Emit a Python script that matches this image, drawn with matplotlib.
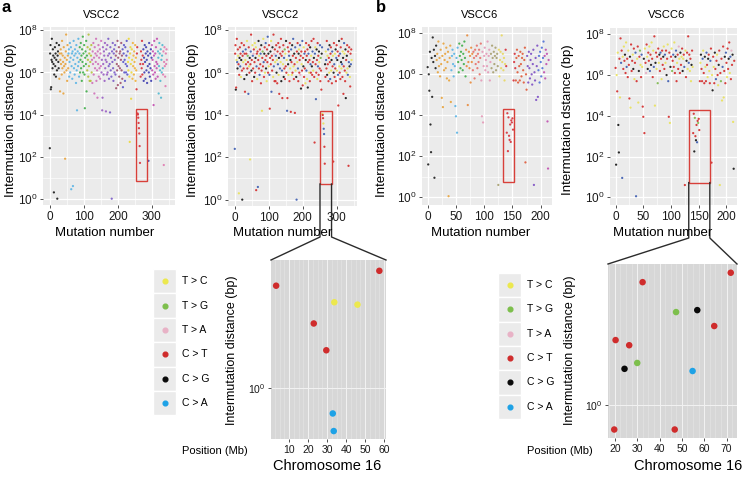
import numpy as np
import matplotlib.pyplot as plt
from matplotlib.patches import Rectangle
from matplotlib.lines import Line2D
from matplotlib.ticker import NullFormatter, NullLocator, MultipleLocator

plt.rcParams['font.family'] = ['Liberation Sans', 'DejaVu Sans']
plt.rcParams['mathtext.fontset'] = 'custom'
plt.rcParams['mathtext.rm'] = 'Liberation Sans'
plt.rcParams['mathtext.it'] = 'Liberation Sans:italic'

# ---------------- data ----------------
# log10 intermutation distance (bp) for each mutation, in genome order
vscc2_log_dist = [
    2.4, 6.9, 7.3, 5.2, 5.3, 6.6, 7.6, 6.5, 6.2, 7.1, 6.8, 6.4, 0.3, 5.9, 6.7,
    7.2, 6.3, 6.9, 5.8, 6.6, 7.4, 6.1, 0.0, 6.8, 7.0, 6.5, 6.2, 7.3, 5.7, 6.9,
    5.1, 6.6, 7.1, 6.4, 6.9, 5.9, 7.5, 6.2, 6.8, 6.5, 5.0, 7.2, 6.3, 6.0, 6.7,
    1.9, 6.4, 7.0, 7.8, 6.1, 6.6, 5.6, 7.3, 6.8, 6.2, 6.9, 7.1, 5.8, 6.5, 7.4,
    6.0, 6.7, 7.2, 0.45, 6.3, 6.9, 5.7, 7.0, 0.6, 6.6, 7.5, 6.2, 6.8, 5.9, 7.1,
    6.4, 6.9, 5.5, 7.3, 6.1, 4.2, 6.7, 7.0, 6.3, 7.6, 6.5, 5.8, 6.9, 7.2, 6.0,
    6.6, 7.4, 6.2, 6.8, 5.6, 7.1, 6.5, 7.7, 6.0, 6.9, 6.3, 7.3, 5.9, 4.3, 6.7,
    7.0, 6.4, 7.5, 5.1, 6.8, 6.1, 7.2, 6.6, 5.8, 7.8, 6.3, 6.9, 5.6, 7.1, 6.5,
    5.6, 6.8, 7.3, 6.0, 6.6, 5.5, 7.0, 6.4, 7.4, 5.9, 6.7, 5.0, 7.2, 6.2, 6.9,
    6.5, 7.6, 5.6, 6.8, 6.1, 4.8, 7.0, 6.4, 7.3, 5.8, 6.7, 6.2, 7.1, 5.7, 6.9,
    6.3, 7.5, 6.0, 6.6, 4.2, 4.8, 7.2, 6.4, 5.9, 7.0, 6.8, 5.6, 7.4, 6.2, 6.6,
    4.15, 7.1, 6.5, 5.9, 7.3, 6.0, 6.8, 7.6, 6.3, 5.7, 6.9, 6.4, 4.1, 7.2, 6.1,
    6.7, 5.8, 0.0, 7.0, 6.5, 7.4, 6.2, 5.6, 6.9, 7.1, 6.0, 6.6, 7.3, 5.9, 6.8,
    5.25, 7.0, 6.4, 6.1, 7.5, 5.4, 6.7, 6.3, 7.2, 5.8, 6.9, 6.2, 7.0, 5.5, 6.6,
    7.4, 6.1, 6.8, 5.7, 7.1, 5.3, 6.5, 6.9, 7.3, 6.0, 6.6, 5.6, 7.2, 6.4, 6.0,
    6.8, 7.5, 6.3, 5.9, 7.0, 6.5, 6.1, 7.6, 6.7, 5.8, 2.7, 6.9, 7.2, 6.4, 4.75,
    6.0, 7.1, 6.6, 5.7, 7.4, 6.3, 6.8, 5.9, 7.0, 6.5, 6.2, 7.3, 5.6, 6.7, 6.1,
    5.2, 6.9, 7.2, 4.05, 4.0, 3.85, 3.6, 3.35, 3.1, 2.5, 1.7, 6.4, 5.8, 7.0, 6.6,
    6.2, 7.5, 5.9, 6.8, 6.4, 7.1, 5.6, 6.7, 6.0, 7.3, 6.5, 5.7, 6.9, 7.2, 6.1,
    6.6, 5.5, 7.0, 6.3, 6.8, 1.8, 6.0, 7.4, 6.4, 5.8, 6.9, 6.2, 7.1, 5.6, 6.7,
    7.3, 6.1, 6.6, 7.0, 5.9, 4.45, 6.8, 7.5, 6.3, 6.0, 6.9, 5.7, 7.2, 6.5, 6.2,
    7.6, 6.4, 5.8, 7.0, 6.7, 5.0, 6.3, 7.4, 6.9, 6.1, 5.6, 7.1, 4.8, 6.6, 6.0,
    6.8, 7.3, 6.2, 5.9, 7.0, 1.6, 6.5, 7.2, 6.3, 5.8, 5.35, 6.9, 6.4, 7.1, 6.6,
]
# mutation type per mutation: Y T>C, G T>G, P T>A, R C>T, K C>G, B C>A
vscc2_types = ''.join([
    'BRRKRYRBKRYRYRK', 'RBRYKRRKRBYRRKR', 'RYBRRKYRGRBRYRK', 'YRBRKRRYBRPRKRY',
    'RKYRBRYRBRKRYBR', 'RBRKRYRGRYBRKRY', 'RBKRYRRBRKYRBRR', 'KRYBRRKRYRBPRRY',
    'RBRKYRRBRYKRRBR', 'YRKRBRRYRKBRGRY', 'RKRYBRRKYRBRRYK', 'RBRYKRRBYRKRRBY',
    'RKBRYRBRKYRRBPR', 'KRYRBRRKYRBRRYK', 'RBRYRKRBRYRRKBR', 'YRKRBRYRKRRBYRB',
    'RKRYRBRRKYRBRGR', 'RKBYRRYBBRRKRYB', 'RRKYRBRRYKRBRRY', 'KRBRYRKRBRYRKRB',
    'RYKRBRRKYRBRRKY', 'RBRYKRRBYRRKKRY', 'KRYBRRBRKYRRBRY',
])
# mutations per chromosome block (genome order) and block colours
vscc2_chrom_counts = [28, 27, 33, 22, 14, 28, 20, 22, 20, 16, 13, 12, 20, 25, 18, 15, 12]
vscc2_chrom_colors = ['#1a1a1a', '#e8a33c', '#5ab4e5', '#3fae49', '#b5c23a', '#d070b8',
                      '#9a5ec4', '#7a5cc8', '#a0526e', '#5b55c9', '#ecd839', '#f1b23a',
                      '#d7303a', '#3d3db0', '#c44fb0', '#4fb8d0', '#e07ab0']

vscc6_log_dist = [
    6.35, 1.6, 6.0, 5.2, 7.1, 3.55, 2.2, 6.8, 4.9, 7.8, 6.6, 7.2, 0.95, 6.9, 6.3,
    7.4, 6.7, 7.0, 6.1, 7.6, 6.4, 6.8, 5.9, 7.2, 6.5, 4.85, 6.9, 4.4, 7.5, 6.2,
    6.7, 7.0, 6.3, 7.3, 5.8, 6.6, 7.1, 0.05, 5.7, 6.8, 7.4, 4.65, 6.2, 6.9, 7.2,
    6.5, 5.9, 7.0, 6.4, 4.45, 3.95, 6.8, 3.15, 7.3, 6.6, 6.1, 7.5, 6.9, 6.3, 7.1,
    6.7, 7.4, 6.2, 7.0, 6.5, 7.6, 6.8, 5.9, 7.2, 6.4, 7.9, 4.5, 6.6, 7.1, 6.3,
    6.9, 5.6, 7.3, 6.6, 7.0, 6.2, 7.1, 6.8, 5.8, 7.2, 6.5, 6.9, 7.4, 6.3, 7.0,
    6.6, 7.2, 6.0, 6.8, 7.5, 5.7, 3.95, 7.1, 3.65, 6.4, 6.9, 7.3, 6.2, 6.7, 7.0,
    6.4, 7.6, 6.1, 6.9, 7.2, 5.7, 6.6, 7.0, 6.3, 7.4, 6.8, 6.1, 7.1, 6.5, 6.9,
    7.3, 6.2, 6.8, 7.0, 6.4, 0.6, 7.2, 5.9, 6.7, 7.1, 6.3, 7.9, 6.6, 7.0, 6.2,
    6.8, 5.7, 6.5, 7.2, 6.4, 3.15, 4.1, 2.25, 3.9, 3.0, 2.8, 3.55, 2.7, 3.75, 3.65,
    3.85, 3.3, 5.7, 6.6, 7.0, 6.3, 5.7, 6.8, 7.2, 6.1, 5.6, 6.9, 6.4, 5.7, 7.1,
    6.5, 5.9, 6.8, 7.0, 6.2, 5.6, 6.7, 7.3, 1.7, 6.0, 5.25, 6.9, 6.4, 5.6, 7.1,
    6.3, 5.8, 6.7, 7.0, 6.0, 5.5, 6.5, 7.2, 0.6, 6.1, 5.7, 6.8, 4.75, 6.4, 7.4,
    4.9, 6.2, 6.9, 5.6, 7.1, 6.6, 5.9, 7.3, 6.3, 6.8, 7.6, 6.1, 6.9, 5.8, 7.2,
    6.5, 7.0, 3.7, 1.4, 6.7,
]
vscc6_types = ''.join([
    'RKYRYKKRYRBRBYR', 'YRKRYBRRYRRKYRR', 'RYKRYRBBRYRYKRG', 'YRBYRRKRYRPRYKR',
    'RYBRKYRRYBRYKRY', 'RGRYKRBRYRRKYRB', 'YRKRYBRRYKRYGRB', 'RYRKBRYRRPYRKRY',
    'RKYRBRYRKRYRBRY', 'RYKRYRRKGRKRBRG', 'RRRYKRRBYRRKYRB', 'RYKRYRBRRYKRYRK',
    'RBRYRYKRYRGRYBR', 'YRKRBRYRRKRYBRP', 'RKYKR',
])
vscc6_chrom_counts = [16, 26, 12, 14, 12, 15, 17, 14, 12, 18, 20, 20, 10, 9]
vscc6_chrom_colors = ['#1a1a1a', '#e8a33c', '#5ab4e5', '#3fae49', '#e88a3c', '#e8706a',
                      '#e59ab8', '#a8a070', '#e8d860', '#d7303a', '#e05a3a', '#7d4fc4',
                      '#4f70d8', '#c04fb0']

# chromosome 16 close-ups: position (Mb), intermutation distance (bp), type
chr16_vscc2_pos = [3.2, 57.5, 33.8, 46.0, 23.0, 29.6, 33.0, 33.5]
chr16_vscc2_dist = [3.17, 3.75, 2.63, 2.56, 2.07, 1.53, 0.75, 0.615]
chr16_vscc2_type = 'RRYYRRBB'

chr16_vscc6_pos = [71.9, 32.4, 47.4, 56.9, 64.5, 20.3, 26.4, 30.0, 24.3, 54.8, 19.7, 46.8]
chr16_vscc6_dist = [6.27, 5.50, 3.63, 3.73, 2.99, 2.46, 2.29, 1.79, 1.65, 1.60, 0.71, 0.71]
chr16_vscc6_type = 'RRGKRRRGKBRR'

legend_codes = ['Y', 'G', 'P', 'R', 'K', 'B']
legend_labels = ['T > C', 'T > G', 'T > A', 'C > T', 'C > G', 'C > A']

# colours: small dots in the overview panels, big dots in the close-ups
top_type_colors = {'Y': '#e9e25a', 'G': '#7cb84a', 'P': '#e6adc4', 'R': '#d42b2b', 'K': '#111111', 'B': '#3b5bb0'}
type_colors = {'Y': '#ece84e', 'G': '#7dbf4c', 'P': '#e8b2c6', 'R': '#cf2c2c', 'K': '#0a0a0a', 'B': '#1ea2e6'}

# ---------------- figure ----------------
W, H = 744, 479
fig = plt.figure(figsize=(W / 100, H / 100), dpi=100)


def px_axes(l, t, r, b):
    return fig.add_axes([l / W, 1 - b / H, (r - l) / W, (b - t) / H])


def fx(x):
    return x / W


def fy(y):
    return 1 - y / H


def style_top(ax, xlim, ylog, xmajor, xminor):
    ax.set_facecolor('#ebebeb')
    ax.set_yscale('log')
    ax.set_xlim(*xlim)
    ax.set_ylim(10 ** ylog[0], 10 ** ylog[1])
    ax.set_xticks(xmajor)
    ax.set_xticks(xminor, minor=True)
    ax.set_yticks([1, 1e2, 1e4, 1e6, 1e8])
    ax.set_yticklabels([r'$\mathregular{10^{%d}}$' % e for e in [0, 2, 4, 6, 8]])
    ax.set_yticks([10, 1e3, 1e5, 1e7], minor=True)
    ax.yaxis.set_minor_formatter(NullFormatter())
    ax.grid(which='major', color='white', lw=0.9)
    ax.grid(which='minor', color='white', lw=0.45)
    ax.set_axisbelow(True)
    for s in ax.spines.values():
        s.set_visible(False)
    ax.tick_params(which='major', length=2.5, width=0.6, color='#333333',
                   labelsize=8.5, pad=1.5, labelcolor='#1a1a1a')
    ax.tick_params(which='minor', length=0)


def style_bottom(ax, xlim, ylog, xt):
    ax.set_facecolor('#d7d7d7')
    ax.set_yscale('log')
    ax.set_xlim(*xlim)
    ax.set_ylim(10 ** ylog[0], 10 ** ylog[1])
    ax.set_yticks([1])
    ax.set_yticklabels([r'$\mathregular{10^{0}}$'])
    ax.yaxis.set_minor_locator(NullLocator())
    ax.set_xticks(xt)
    ax.xaxis.set_minor_locator(MultipleLocator(2.5))
    ax.grid(which='major', color='#f2f2f2', lw=0.7)
    ax.grid(which='minor', axis='x', color='#e6e6e6', lw=0.4)
    ax.set_axisbelow(True)
    for s in ax.spines.values():
        s.set_visible(False)
    ax.tick_params(which='major', length=2, width=0.6, color='#333333',
                   labelsize=7.5, pad=2, labelcolor='#1a1a1a')
    ax.tick_params(which='minor', length=0)


def top_panel(box, log_dist, colors, xlim, ylog, xmajor, xminor, box_span):
    ax = px_axes(*box)
    style_top(ax, xlim, ylog, xmajor, xminor)
    idx = np.arange(len(log_dist))
    ax.scatter(idx, 10 ** np.array(log_dist), s=2.6, c=colors, linewidths=0,
               alpha=0.9, zorder=3)
    x0, x1, y0, y1 = box_span
    ax.add_patch(Rectangle((x0, 10 ** y0), x1 - x0, 10 ** y1 - 10 ** y0,
                           fill=False, ec='#d8403a', lw=1.0, zorder=4))
    return ax


chrom_col_2 = np.repeat(vscc2_chrom_colors, vscc2_chrom_counts)
chrom_col_6 = np.repeat(vscc6_chrom_colors, vscc6_chrom_counts)
type_col_2 = [top_type_colors[t] for t in vscc2_types]
type_col_6 = [top_type_colors[t] for t in vscc6_types]

box_a1 = (254, 287, 0.82, 4.24)
box_a2 = (251, 285, 0.74, 4.21)
box_b1 = (133, 153, 0.72, 4.30)
box_b2 = (132, 170, 0.72, 4.29)

ax_a1 = top_panel((43, 27, 175, 205), vscc2_log_dist, chrom_col_2, (-20, 368), (-0.3, 8.16),
                  [0, 100, 200, 300], [50, 150, 250, 350], box_a1)
ax_a2 = top_panel((228, 27, 357, 206), vscc2_log_dist, type_col_2, (-20, 360), (-0.3, 8.16),
                  [0, 100, 200, 300], [50, 150, 250, 350], box_a2)
ax_b1 = top_panel((422, 27, 552, 205), vscc6_log_dist, chrom_col_6, (-10, 220), (-0.38, 8.31),
                  [0, 50, 100, 150, 200], [25, 75, 125, 175], box_b1)
ax_b2 = top_panel((610, 28, 737, 205), vscc6_log_dist, type_col_6, (-10, 219), (-0.38, 8.31),
                  [0, 50, 100, 150, 200], [25, 75, 125, 175], box_b2)

# titles and axis labels of the overview panels
for x, name in [(102, 'VSCC2'), (281, 'VSCC2'), (480, 'VSCC6'), (667, 'VSCC6')]:
    fig.text(fx(x), fy(15), name, ha='center', va='center', fontsize=8)
for x in [105, 283, 481, 663]:
    fig.text(fx(x), fy(233), 'Mutation number', ha='center', va='center', fontsize=9.5)
for x, lab in [(11, 'Intermutaion distance (bp)'), (193, 'Intermutaion distance (bp)'),
               (382, 'Intermutaion distance (bp)'), (568, 'Intermutaion dstance (bp)')]:
    fig.text(fx(x), fy(120), lab, ha='center', va='center', rotation=90, fontsize=9.5)

fig.text(fx(2), fy(8), 'a', ha='left', va='center', fontsize=12, fontweight='bold')
fig.text(fx(376), fy(8), 'b', ha='left', va='center', fontsize=12, fontweight='bold')

# chromosome 16 close-ups
ax_c2 = px_axes(271, 260, 386, 439)
style_bottom(ax_c2, (0.5, 61), (-0.25, 0.627), [10, 20, 30, 40, 50, 60])
ax_c2.scatter(chr16_vscc2_pos, chr16_vscc2_dist, s=22, linewidths=0, zorder=3,
              c=[type_colors[t] for t in chr16_vscc2_type])

ax_c6 = px_axes(608, 264, 737, 438)
style_bottom(ax_c6, (16.9, 74.7), (-0.2, 0.85), [20, 30, 40, 50, 60, 70])
ax_c6.scatter(chr16_vscc6_pos, chr16_vscc6_dist, s=22, linewidths=0, zorder=3,
              c=[type_colors[t] for t in chr16_vscc6_type])

for x in [232, 570]:
    fig.text(fx(x), fy(350), 'Intermutation distance (bp)', ha='center', va='center',
             rotation=90, fontsize=9)
fig.text(fx(327), fy(466), 'Chromosome 16', ha='center', va='center', fontsize=10.5)
fig.text(fx(688), fy(466), 'Chromosome 16', ha='center', va='center', fontsize=10.5)
fig.text(fx(182), fy(451), 'Position (Mb)', ha='left', va='center', fontsize=8)
fig.text(fx(527), fy(451), 'Position (Mb)', ha='left', va='center', fontsize=8)


# connector lines from the red boxes to the close-ups
def connect(ax_top, span, ax_bot, bend_y):
    inv = fig.transFigure.inverted()
    left = inv.transform(ax_top.transData.transform((span[0], 10 ** span[2])))
    right = inv.transform(ax_top.transData.transform((span[1], 10 ** span[2])))
    pos = ax_bot.get_position()
    fig.add_artist(Line2D([left[0], left[0], pos.x0], [left[1], fy(bend_y), pos.y1],
                          color='#2b2b2b', lw=1.0))
    fig.add_artist(Line2D([right[0], right[0], pos.x1], [right[1], fy(bend_y), pos.y1],
                          color='#2b2b2b', lw=1.0))


connect(ax_a2, box_a2, ax_c2, 237)
connect(ax_b2, box_b2, ax_c6, 238)


# legends
def legend(key_x, top, row_h, text_x):
    key_w = 23
    for i, (code, lab) in enumerate(zip(legend_codes, legend_labels)):
        y0 = top + i * row_h
        fig.add_artist(Rectangle((fx(key_x), fy(y0 + row_h)), key_w / W, row_h / H,
                                 transform=fig.transFigure, fc='#ebebeb', ec='white', lw=1.0))
        fig.add_artist(Line2D([fx(key_x + key_w / 2)], [fy(y0 + row_h / 2)], marker='o',
                              ms=3.4, color=type_colors[code], lw=0))
        fig.text(fx(text_x), fy(y0 + row_h / 2), lab, ha='left', va='center', fontsize=7.5)


legend(153, 269, 24.4, 182)
legend(498, 273, 24.3, 527)

fig.savefig('out.png', dpi=100)
